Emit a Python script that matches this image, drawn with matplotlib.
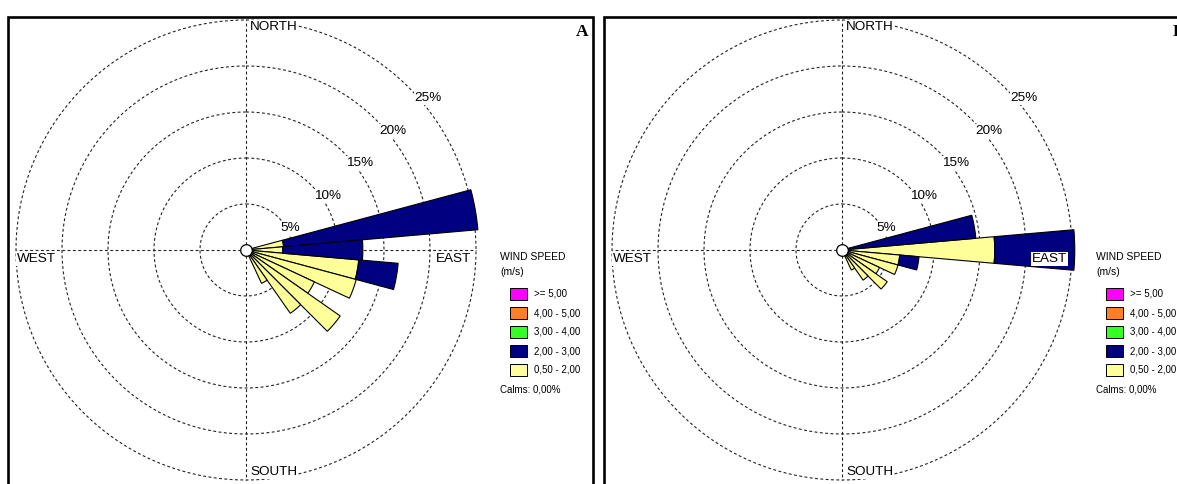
import numpy as np
import matplotlib
matplotlib.use("Agg")
import matplotlib.pyplot as plt
from matplotlib.patches import Rectangle

plt.rcParams['font.family'] = ['Liberation Sans', 'DejaVu Sans']

W, H = 1177, 484

# Wind directions (degrees, bin centres, 10-degree sectors)
directions = [80, 90, 100, 110, 120, 130, 140, 150]

# Panel A: cumulative frequency (%) per speed class
a_low = [4.1, 4.0, 12.3, 12.4, 8.2, 12.5, 8.4, 4.0]     # 0.50 - 2.00 m/s
a_total = [25.3, 12.7, 16.6, 12.4, 8.2, 12.5, 8.4, 4.0]  # up to 3.00 m/s

# Panel B
b_low = [0.8, 16.6, 6.3, 6.3, 4.5, 6.0, 4.0, 2.4]
b_total = [14.6, 25.3, 8.4, 6.3, 4.5, 6.0, 4.0, 2.4]

ring_values = [5, 10, 15, 20, 25]
ring_labels = ['5%', '10%', '15%', '20%', '25%']
legend_labels = ['>= 5,00', '4,00 - 5,00', '3,00 - 4,00', '2,00 - 3,00', '0,50 - 2,00']
legend_colors = ['#ff00ff', '#ff7f27', '#33ff22', '#000080', '#ffff99']
calms = 'Calms: 0,00%'

YELLOW = '#ffff99'
NAVY = '#000080'

RMAX = 26.0
PX_PER_PCT = 230 / 25.0
DASH = (0, (2.6, 2.2))

fig = plt.figure(figsize=(W / 100, H / 100), dpi=100)


def fx(x):
    return x / W


def fy(y):
    return 1 - y / H


def draw_panel(ox, low, total, letter):
    cx, cy = 246 + ox, 250
    half = RMAX * PX_PER_PCT

    # frame
    fig.add_artist(Rectangle((fx(8 + ox), fy(492)), (593 - 8) / W, (492 - 17) / H,
                             transform=fig.transFigure, fill=False,
                             edgecolor='black', linewidth=1.9, zorder=1))
    fig.text(fx(588 + ox), fy(32), letter, ha='right', va='center',
             family='Liberation Serif', fontweight='bold', fontsize=12.5)

    ax = fig.add_axes([fx(cx - half), fy(cy + half), 2 * half / W, 2 * half / H],
                      projection='polar')
    ax.set_theta_zero_location('N')
    ax.set_theta_direction(-1)
    ax.set_ylim(0, RMAX)
    ax.grid(False)
    ax.set_xticks([])
    ax.set_yticks([])
    ax.spines['polar'].set_visible(False)
    ax.patch.set_alpha(0)

    # dashed rings and compass cross
    t = np.linspace(0, 2 * np.pi, 721)
    for r in ring_values:
        ax.plot(t, np.full_like(t, r), color='#222222', lw=0.8, ls=DASH, zorder=1)
    for ang in [0, 90, 180, 270]:
        ax.plot([np.radians(ang)] * 2, [0, 25], color='#222222', lw=0.8, ls=DASH, zorder=1)

    th = np.radians(directions)
    width = np.radians(10)
    low = np.asarray(low)
    total = np.asarray(total)
    ax.bar(th, low, width=width, bottom=0, color=YELLOW, edgecolor='black',
           linewidth=0.8, zorder=3)
    upper = total - low
    m = upper > 0
    ax.bar(th[m], upper[m], width=width, bottom=low[m], color=NAVY,
           edgecolor='black', linewidth=0.8, zorder=3)
    ax.scatter([0], [0], s=70, facecolor='white', edgecolor='black',
               linewidth=0.9, zorder=6, clip_on=False)

    # compass labels
    box = dict(facecolor='white', edgecolor='none', pad=0.5)
    fs = 9.7
    fig.text(fx(cx + 4), fy(21), 'NORTH', ha='left', va='top', fontsize=fs, bbox=box, zorder=5)
    fig.text(fx(cx + 4), fy(478), 'SOUTH', ha='left', va='bottom', fontsize=fs, bbox=box, zorder=5)
    fig.text(fx(cx - 230 + 1), fy(253), 'WEST', ha='left', va='top', fontsize=fs, bbox=box, zorder=5)
    fig.text(fx(cx + 225), fy(253), 'EAST', ha='right', va='top', fontsize=fs, bbox=box, zorder=5)

    # ring percentage labels
    offsets = [(44, -22), (82, -54), (114, -87), (147, -119), (182, -152)]
    for lab, (dx, dy) in zip(ring_labels, offsets):
        fig.text(fx(cx + dx), fy(cy + dy), lab, ha='center', va='center',
                 fontsize=fs, bbox=box, zorder=5)

    # legend
    lx = cx + 254
    fig.text(fx(lx), fy(257), 'WIND SPEED', ha='left', va='center', fontsize=7.5)
    fig.text(fx(lx), fy(272), '(m/s)', ha='left', va='center', fontsize=7.5)
    row_y = [294, 313, 332, 351, 370]
    for yy, lab, col in zip(row_y, legend_labels, legend_colors):
        fig.add_artist(Rectangle((fx(lx + 10), fy(yy + 6)), 17 / W, 12 / H,
                                 transform=fig.transFigure, facecolor=col,
                                 edgecolor='black', linewidth=0.7))
        fig.text(fx(lx + 34), fy(yy), lab, ha='left', va='center', fontsize=7)
    fig.text(fx(lx), fy(389), calms, ha='left', va='center', fontsize=7)


draw_panel(0, a_low, a_total, 'A')
draw_panel(596, b_low, b_total, 'B')

fig.savefig('out.png', dpi=100)
